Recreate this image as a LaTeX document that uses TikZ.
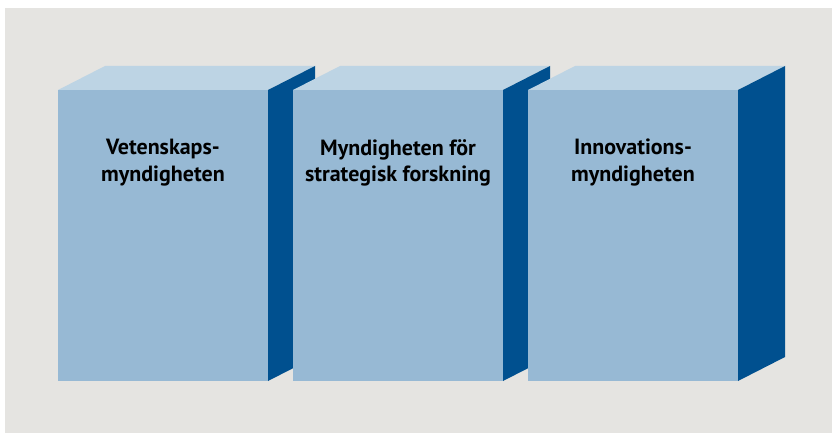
\documentclass[tikz,border=0pt]{standalone}
\usepackage{fontspec}
\setmainfont{PT Sans}
\definecolor{bgrey}{RGB}{229,228,225}
\definecolor{frontblue}{RGB}{151,185,212}
\definecolor{topblue}{RGB}{189,212,228}
\definecolor{sideblue}{RGB}{0,80,143}
\tikzset{
  boxtext/.style={align=center,inner sep=0pt,anchor=north,
    font=\bfseries\fontsize{22}{26.5}\selectfont}
}

\begin{document}
\begin{tikzpicture}[x=1pt,y=-1pt]
\useasboundingbox (0,0) rectangle (832,433);
\fill[bgrey] (5,8) rectangle (832,433);
% first box
\begin{scope}[shift={(58,90)}]
\fill[topblue] (0,0) -- (47,-24) -- (257,-24) -- (210,0) -- cycle;
\fill[frontblue] (0,0) rectangle (210,291);
\fill[sideblue] (210,0) -- (257,-24) -- (257,267) -- (210,291) -- cycle;
\node[boxtext] (vet) at (105,49) {Vetenskaps-\\myndigheten};
\end{scope}
% second box
\begin{scope}[shift={(293,90)}]
\fill[topblue] (0,0) -- (47,-24) -- (257,-24) -- (210,0) -- cycle;
\fill[frontblue] (0,0) rectangle (210,291);
\fill[sideblue] (210,0) -- (257,-24) -- (257,267) -- (210,291) -- cycle;
\node[boxtext] (strat) at (105,49) {Myndigheten för\\strategisk forskning};
\end{scope}
% third box
\begin{scope}[shift={(528,90)}]
\fill[topblue] (0,0) -- (47,-24) -- (257,-24) -- (210,0) -- cycle;
\fill[frontblue] (0,0) rectangle (210,291);
\fill[sideblue] (210,0) -- (257,-24) -- (257,267) -- (210,291) -- cycle;
\node[boxtext] (innov) at (105,49) {Innovations-\\myndigheten};
\end{scope}
\end{tikzpicture}
\end{document}
